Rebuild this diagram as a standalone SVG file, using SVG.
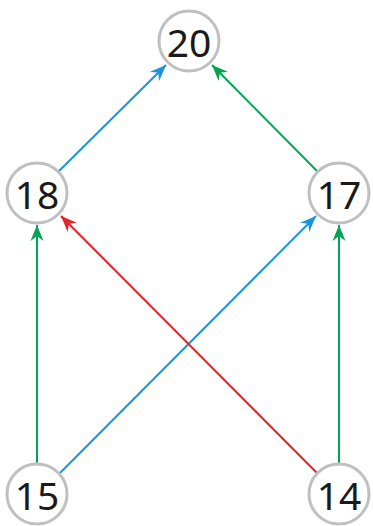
<svg xmlns="http://www.w3.org/2000/svg" width="373" height="526" viewBox="0 0 373 526">
<style>
.node circle{fill:#fff;stroke:#c0c0c0;stroke-width:3}
.node text{font-family:"Noto Sans","Open Sans",sans-serif;font-size:39px;fill:#1a1a1a;text-anchor:middle;dominant-baseline:central}
.e{fill:none;stroke-width:2}
.b{stroke:#1a96d8}.g{stroke:#00a651}.r{stroke:#e52329}
</style>
<defs>
<marker id="ab" viewBox="-16 -7 17 14" refX="0" refY="0" markerWidth="17" markerHeight="14" markerUnits="userSpaceOnUse" orient="auto"><path d="M0,0 L-16,-6.5 L-11,0 L-16,6.5 Z" fill="#1a96d8"/></marker>
<marker id="ag" viewBox="-16 -7 17 14" refX="0" refY="0" markerWidth="17" markerHeight="14" markerUnits="userSpaceOnUse" orient="auto"><path d="M0,0 L-16,-6.5 L-11,0 L-16,6.5 Z" fill="#00a651"/></marker>
<marker id="ar" viewBox="-16 -7 17 14" refX="0" refY="0" markerWidth="17" markerHeight="14" markerUnits="userSpaceOnUse" orient="auto"><path d="M0,0 L-16,-6.5 L-11,0 L-16,6.5 Z" fill="#e52329"/></marker>
</defs>
<g id="connectors">
<line class="e b" x1="58" y1="172" x2="166" y2="65" marker-end="url(#ab)"/>
<line class="e g" x1="318" y1="172" x2="212" y2="65" marker-end="url(#ag)"/>
<line class="e g" x1="37" y1="464" x2="37" y2="225" marker-end="url(#ag)"/>
<line class="e g" x1="339" y1="464" x2="339" y2="225" marker-end="url(#ag)"/>
<line class="e b" x1="59" y1="474" x2="316" y2="216" marker-end="url(#ab)"/>
<line class="e r" x1="318" y1="474" x2="61" y2="216" marker-end="url(#ar)"/>
</g>
<g id="n20" class="node"><circle cx="189" cy="41" r="30"/><text x="189" y="41">20</text></g>
<g id="n18" class="node"><circle cx="37" cy="193" r="30"/><text x="37" y="193">18</text></g>
<g id="n17" class="node"><circle cx="339" cy="193" r="30"/><text x="339" y="193">17</text></g>
<g id="n15" class="node"><circle cx="37" cy="494" r="30"/><text x="37" y="494">15</text></g>
<g id="n14" class="node"><circle cx="339" cy="494" r="30"/><text x="339" y="494">14</text></g>
</svg>
